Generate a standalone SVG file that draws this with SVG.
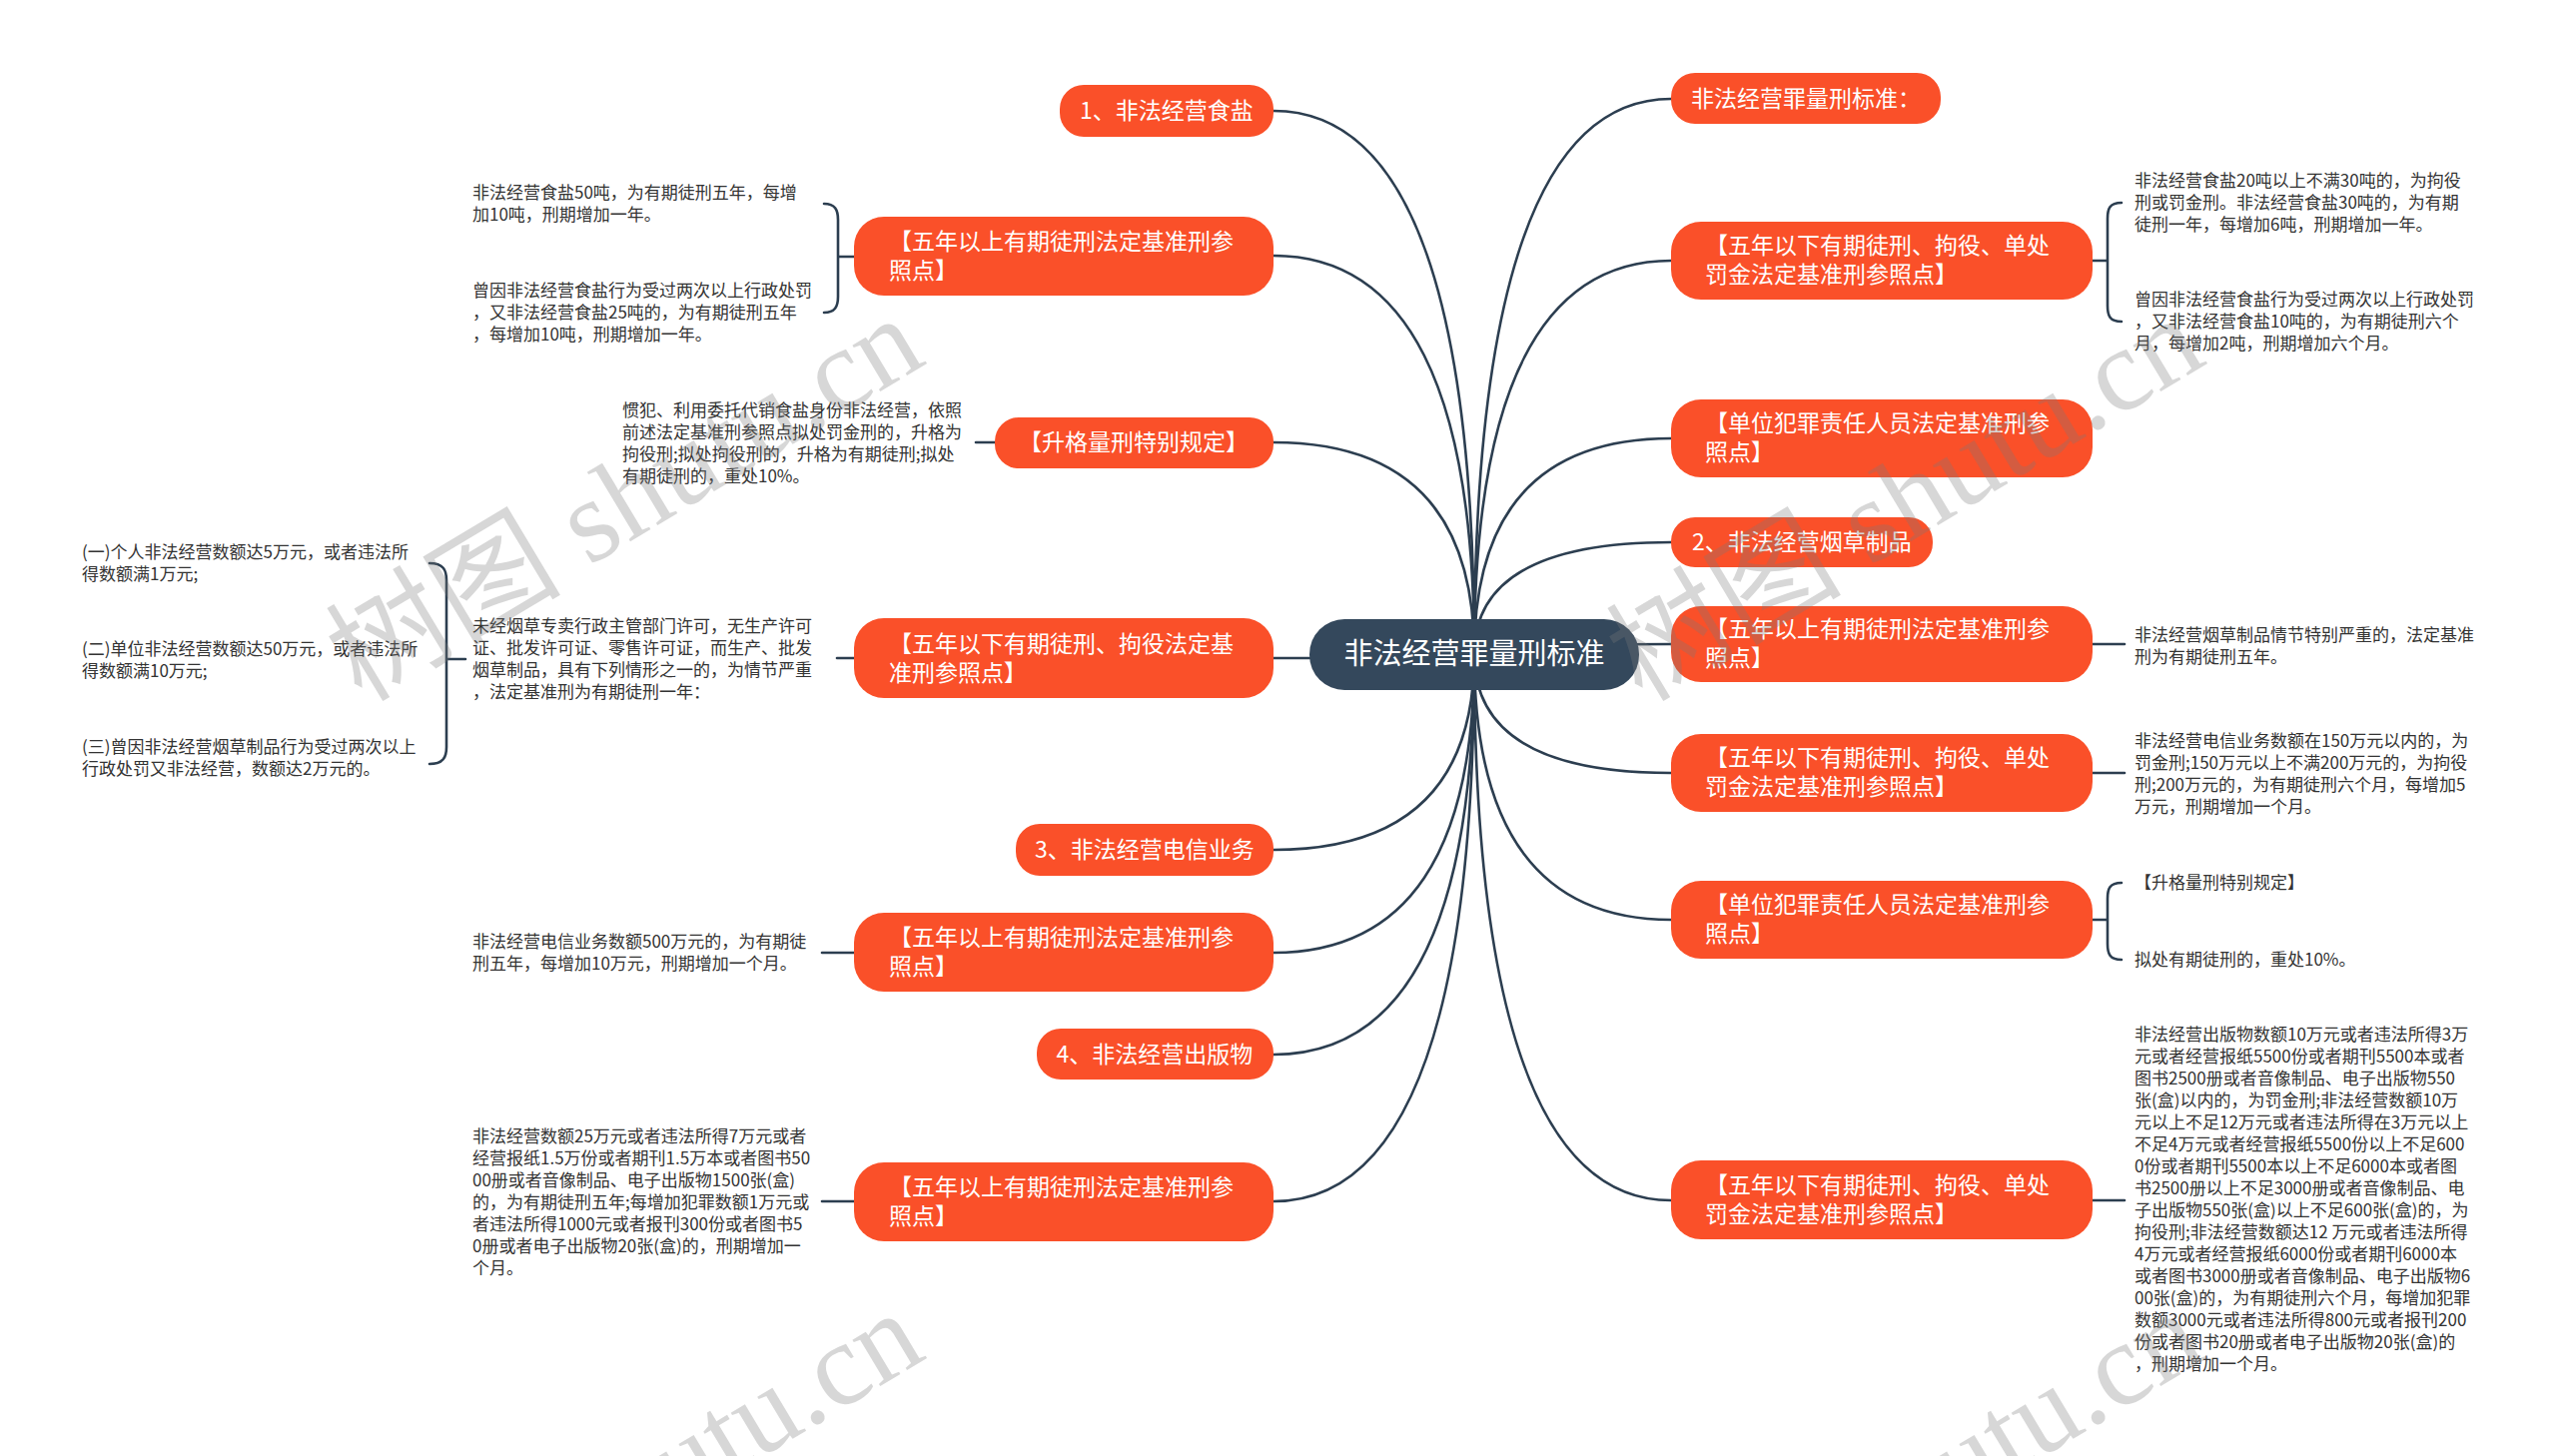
<svg xmlns="http://www.w3.org/2000/svg" width="2560" height="1458" viewBox="0 0 2560 1458">
<style>
.bg{fill:#ffffff}
.c{fill:none;stroke:#2c3e50;stroke-width:2.6;stroke-linecap:round}
.o{fill:#fa5029}
.ctr{fill:#34485c}
.t{font-family:"Noto Sans CJK SC","Noto Sans",sans-serif;fill:#ffffff;font-size:23px}
.tc{font-family:"Noto Sans CJK SC","Noto Sans",sans-serif;fill:#ffffff;font-size:29px}
.l{font-family:"Noto Sans CJK SC","Noto Sans",sans-serif;fill:#333333;font-size:17px}
.wm{font-family:"Liberation Serif","Noto Sans CJK SC",serif;font-size:118px;fill:#7a7a7a;fill-opacity:0.3}
</style>
<rect class="bg" x="0" y="0" width="2560" height="1458"/>
<g id="connectors">
<path class="c" d="M1476,655 Q1476,111 1275,111"/>
<path class="c" d="M1476,655 Q1476,256 1275,256"/>
<path class="c" d="M1476,655 Q1476,443 1275,443"/>
<path class="c" d="M1476,655 Q1476,659 1275,659"/>
<path class="c" d="M1476,655 Q1476,851 1275,851"/>
<path class="c" d="M1476,655 Q1476,954 1275,954"/>
<path class="c" d="M1476,655 Q1476,1056 1275,1056"/>
<path class="c" d="M1476,655 Q1476,1203 1275,1203"/>
<path class="c" d="M1476,655 Q1476,99 1673,99"/>
<path class="c" d="M1476,655 Q1476,261 1673,261"/>
<path class="c" d="M1476,655 Q1476,439 1673,439"/>
<path class="c" d="M1476,655 Q1476,543 1673,543"/>
<path class="c" d="M1476,655 Q1476,645 1673,645"/>
<path class="c" d="M1476,655 Q1476,774 1673,774"/>
<path class="c" d="M1476,655 Q1476,921 1673,921"/>
<path class="c" d="M1476,655 Q1476,1202 1673,1202"/>
<path class="c" d="M825,204 C836,204 839,210 839,220 V297 C839,307 836,313 825,313 M839,257 H855"/>
<path class="c" d="M977,443 H996"/>
<path class="c" d="M838,659 H855"/>
<path class="c" d="M430,564 C444,564 447,571 447,581 V748 C447,758 444,765 430,765 M447,660 H466"/>
<path class="c" d="M823,954 H855"/>
<path class="c" d="M823,1203 H855"/>
<path class="c" d="M2124,203 C2112,203 2110,209 2110,219 V306 C2110,316 2112,322 2124,322 M2095,261 H2110"/>
<path class="c" d="M2095,645 H2127"/>
<path class="c" d="M2095,774 H2127"/>
<path class="c" d="M2124,884 C2112,884 2110,890 2110,900 V945 C2110,955 2112,961 2124,961 M2095,921 H2110"/>
<path class="c" d="M2095,1202 H2127"/>
</g>
<g id="center">
<rect class="ctr" x="1311" y="620" width="330" height="71" rx="35"/>
<text class="tc" x="1476" y="665" text-anchor="middle">非法经营罪量刑标准</text>
</g>
<g id="L1"><rect class="o" x="1061" y="85" width="214" height="52" rx="24"/><text class="t" x="1168" y="119" text-anchor="middle">1、非法经营食盐</text></g>
<g id="L2"><rect class="o" x="855" y="217" width="420" height="79" rx="30"/><text class="t"><tspan x="890" y="250">【五年以上有期徒刑法定基准刑参</tspan><tspan x="890" y="279">照点】</tspan></text></g>
<g id="L3"><rect class="o" x="996" y="418" width="279" height="51" rx="24"/><text class="t" x="1135" y="451" text-anchor="middle">【升格量刑特别规定】</text></g>
<g id="L4"><rect class="o" x="855" y="619" width="420" height="80" rx="30"/><text class="t"><tspan x="890" y="653">【五年以下有期徒刑、拘役法定基</tspan><tspan x="890" y="682">准刑参照点】</tspan></text></g>
<g id="L5"><rect class="o" x="1017" y="825" width="258" height="52" rx="24"/><text class="t" x="1146" y="859" text-anchor="middle">3、非法经营电信业务</text></g>
<g id="L6"><rect class="o" x="855" y="914" width="420" height="79" rx="30"/><text class="t"><tspan x="890" y="947">【五年以上有期徒刑法定基准刑参</tspan><tspan x="890" y="976">照点】</tspan></text></g>
<g id="L7"><rect class="o" x="1038" y="1030" width="237" height="51" rx="24"/><text class="t" x="1156" y="1064" text-anchor="middle">4、非法经营出版物</text></g>
<g id="L8"><rect class="o" x="855" y="1164" width="420" height="79" rx="30"/><text class="t"><tspan x="890" y="1197">【五年以上有期徒刑法定基准刑参</tspan><tspan x="890" y="1226">照点】</tspan></text></g>
<g id="R1"><rect class="o" x="1673" y="73" width="270" height="51" rx="24"/><text class="t" x="1808" y="107" text-anchor="middle">非法经营罪量刑标准：</text></g>
<g id="R2"><rect class="o" x="1673" y="222" width="422" height="78" rx="30"/><text class="t"><tspan x="1707" y="254">【五年以下有期徒刑、拘役、单处</tspan><tspan x="1707" y="283">罚金法定基准刑参照点】</tspan></text></g>
<g id="R3"><rect class="o" x="1673" y="400" width="422" height="78" rx="30"/><text class="t"><tspan x="1707" y="432">【单位犯罪责任人员法定基准刑参</tspan><tspan x="1707" y="461">照点】</tspan></text></g>
<g id="R4"><rect class="o" x="1673" y="518" width="262" height="50" rx="24"/><text class="t" x="1804" y="551" text-anchor="middle">2、非法经营烟草制品</text></g>
<g id="R5"><rect class="o" x="1673" y="607" width="422" height="76" rx="30"/><text class="t"><tspan x="1707" y="638">【五年以上有期徒刑法定基准刑参</tspan><tspan x="1707" y="667">照点】</tspan></text></g>
<g id="R6"><rect class="o" x="1673" y="735" width="422" height="78" rx="30"/><text class="t"><tspan x="1707" y="767">【五年以下有期徒刑、拘役、单处</tspan><tspan x="1707" y="796">罚金法定基准刑参照点】</tspan></text></g>
<g id="R7"><rect class="o" x="1673" y="882" width="422" height="78" rx="30"/><text class="t"><tspan x="1707" y="914">【单位犯罪责任人员法定基准刑参</tspan><tspan x="1707" y="943">照点】</tspan></text></g>
<g id="R8"><rect class="o" x="1673" y="1162" width="422" height="79" rx="30"/><text class="t"><tspan x="1707" y="1195">【五年以下有期徒刑、拘役、单处</tspan><tspan x="1707" y="1224">罚金法定基准刑参照点】</tspan></text></g>
<g id="leaf-L2a"><text class="l"><tspan x="473" y="199">非法经营食盐50吨，为有期徒刑五年，每增</tspan><tspan x="473" y="221">加10吨，刑期增加一年。</tspan></text></g>
<g id="leaf-L2b"><text class="l"><tspan x="473" y="297">曾因非法经营食盐行为受过两次以上行政处罚</tspan><tspan x="473" y="319">，又非法经营食盐25吨的，为有期徒刑五年</tspan><tspan x="473" y="341">，每增加10吨，刑期增加一年。</tspan></text></g>
<g id="leaf-L3"><text class="l"><tspan x="623" y="417">惯犯、利用委托代销食盐身份非法经营，依照</tspan><tspan x="623" y="439">前述法定基准刑参照点拟处罚金刑的，升格为</tspan><tspan x="623" y="461">拘役刑;拟处拘役刑的，升格为有期徒刑;拟处</tspan><tspan x="623" y="483">有期徒刑的，重处10%。</tspan></text></g>
<g id="leaf-L4"><text class="l"><tspan x="473" y="633">未经烟草专卖行政主管部门许可，无生产许可</tspan><tspan x="473" y="655">证、批发许可证、零售许可证，而生产、批发</tspan><tspan x="473" y="677">烟草制品，具有下列情形之一的，为情节严重</tspan><tspan x="473" y="699">，法定基准刑为有期徒刑一年：</tspan></text></g>
<g id="leaf-L4a"><text class="l"><tspan x="82" y="559">(一)个人非法经营数额达5万元，或者违法所</tspan><tspan x="82" y="581">得数额满1万元;</tspan></text></g>
<g id="leaf-L4b"><text class="l"><tspan x="82" y="656">(二)单位非法经营数额达50万元，或者违法所</tspan><tspan x="82" y="678">得数额满10万元;</tspan></text></g>
<g id="leaf-L4c"><text class="l"><tspan x="82" y="754">(三)曾因非法经营烟草制品行为受过两次以上</tspan><tspan x="82" y="776">行政处罚又非法经营，数额达2万元的。</tspan></text></g>
<g id="leaf-L6"><text class="l"><tspan x="473" y="949">非法经营电信业务数额500万元的，为有期徒</tspan><tspan x="473" y="971">刑五年，每增加10万元，刑期增加一个月。</tspan></text></g>
<g id="leaf-L8"><text class="l"><tspan x="473" y="1144">非法经营数额25万元或者违法所得7万元或者</tspan><tspan x="473" y="1166">经营报纸1.5万份或者期刊1.5万本或者图书50</tspan><tspan x="473" y="1188">00册或者音像制品、电子出版物1500张(盒)</tspan><tspan x="473" y="1210">的，为有期徒刑五年;每增加犯罪数额1万元或</tspan><tspan x="473" y="1232">者违法所得1000元或者报刊300份或者图书5</tspan><tspan x="473" y="1254">0册或者电子出版物20张(盒)的，刑期增加一</tspan><tspan x="473" y="1276">个月。</tspan></text></g>
<g id="leaf-R2a"><text class="l"><tspan x="2137" y="187">非法经营食盐20吨以上不满30吨的，为拘役</tspan><tspan x="2137" y="209">刑或罚金刑。非法经营食盐30吨的，为有期</tspan><tspan x="2137" y="231">徒刑一年，每增加6吨，刑期增加一年。</tspan></text></g>
<g id="leaf-R2b"><text class="l"><tspan x="2137" y="306">曾因非法经营食盐行为受过两次以上行政处罚</tspan><tspan x="2137" y="328">，又非法经营食盐10吨的，为有期徒刑六个</tspan><tspan x="2137" y="350">月，每增加2吨，刑期增加六个月。</tspan></text></g>
<g id="leaf-R5"><text class="l"><tspan x="2137" y="642">非法经营烟草制品情节特别严重的，法定基准</tspan><tspan x="2137" y="664">刑为有期徒刑五年。</tspan></text></g>
<g id="leaf-R6"><text class="l"><tspan x="2137" y="748">非法经营电信业务数额在150万元以内的，为</tspan><tspan x="2137" y="770">罚金刑;150万元以上不满200万元的，为拘役</tspan><tspan x="2137" y="792">刑;200万元的，为有期徒刑六个月，每增加5</tspan><tspan x="2137" y="814">万元，刑期增加一个月。</tspan></text></g>
<g id="leaf-R7a"><text class="l" x="2137" y="890">【升格量刑特别规定】</text></g>
<g id="leaf-R7b"><text class="l" x="2137" y="967">拟处有期徒刑的，重处10%。</text></g>
<g id="leaf-R8"><text class="l"><tspan x="2137" y="1042">非法经营出版物数额10万元或者违法所得3万</tspan><tspan x="2137" y="1064">元或者经营报纸5500份或者期刊5500本或者</tspan><tspan x="2137" y="1086">图书2500册或者音像制品、电子出版物550</tspan><tspan x="2137" y="1108">张(盒)以内的，为罚金刑;非法经营数额10万</tspan><tspan x="2137" y="1130">元以上不足12万元或者违法所得在3万元以上</tspan><tspan x="2137" y="1152">不足4万元或者经营报纸5500份以上不足600</tspan><tspan x="2137" y="1174">0份或者期刊5500本以上不足6000本或者图</tspan><tspan x="2137" y="1196">书2500册以上不足3000册或者音像制品、电</tspan><tspan x="2137" y="1218">子出版物550张(盒)以上不足600张(盒)的，为</tspan><tspan x="2137" y="1240">拘役刑;非法经营数额达12 万元或者违法所得</tspan><tspan x="2137" y="1262">4万元或者经营报纸6000份或者期刊6000本</tspan><tspan x="2137" y="1284">或者图书3000册或者音像制品、电子出版物6</tspan><tspan x="2137" y="1306">00张(盒)的，为有期徒刑六个月，每增加犯罪</tspan><tspan x="2137" y="1328">数额3000元或者违法所得800元或者报刊200</tspan><tspan x="2137" y="1350">份或者图书20册或者电子出版物20张(盒)的</tspan><tspan x="2137" y="1372">，刑期增加一个月。</tspan></text></g>
<g id="watermarks">
<text class="wm" transform="translate(362,704) rotate(-31)">树图 shutu.cn</text>
<text class="wm" transform="translate(1644,704) rotate(-31)">树图 shutu.cn</text>
<text class="wm" transform="translate(362,1700) rotate(-31)">树图 shutu.cn</text>
<text class="wm" transform="translate(1644,1700) rotate(-31)">树图 shutu.cn</text>
</g>
</svg>
